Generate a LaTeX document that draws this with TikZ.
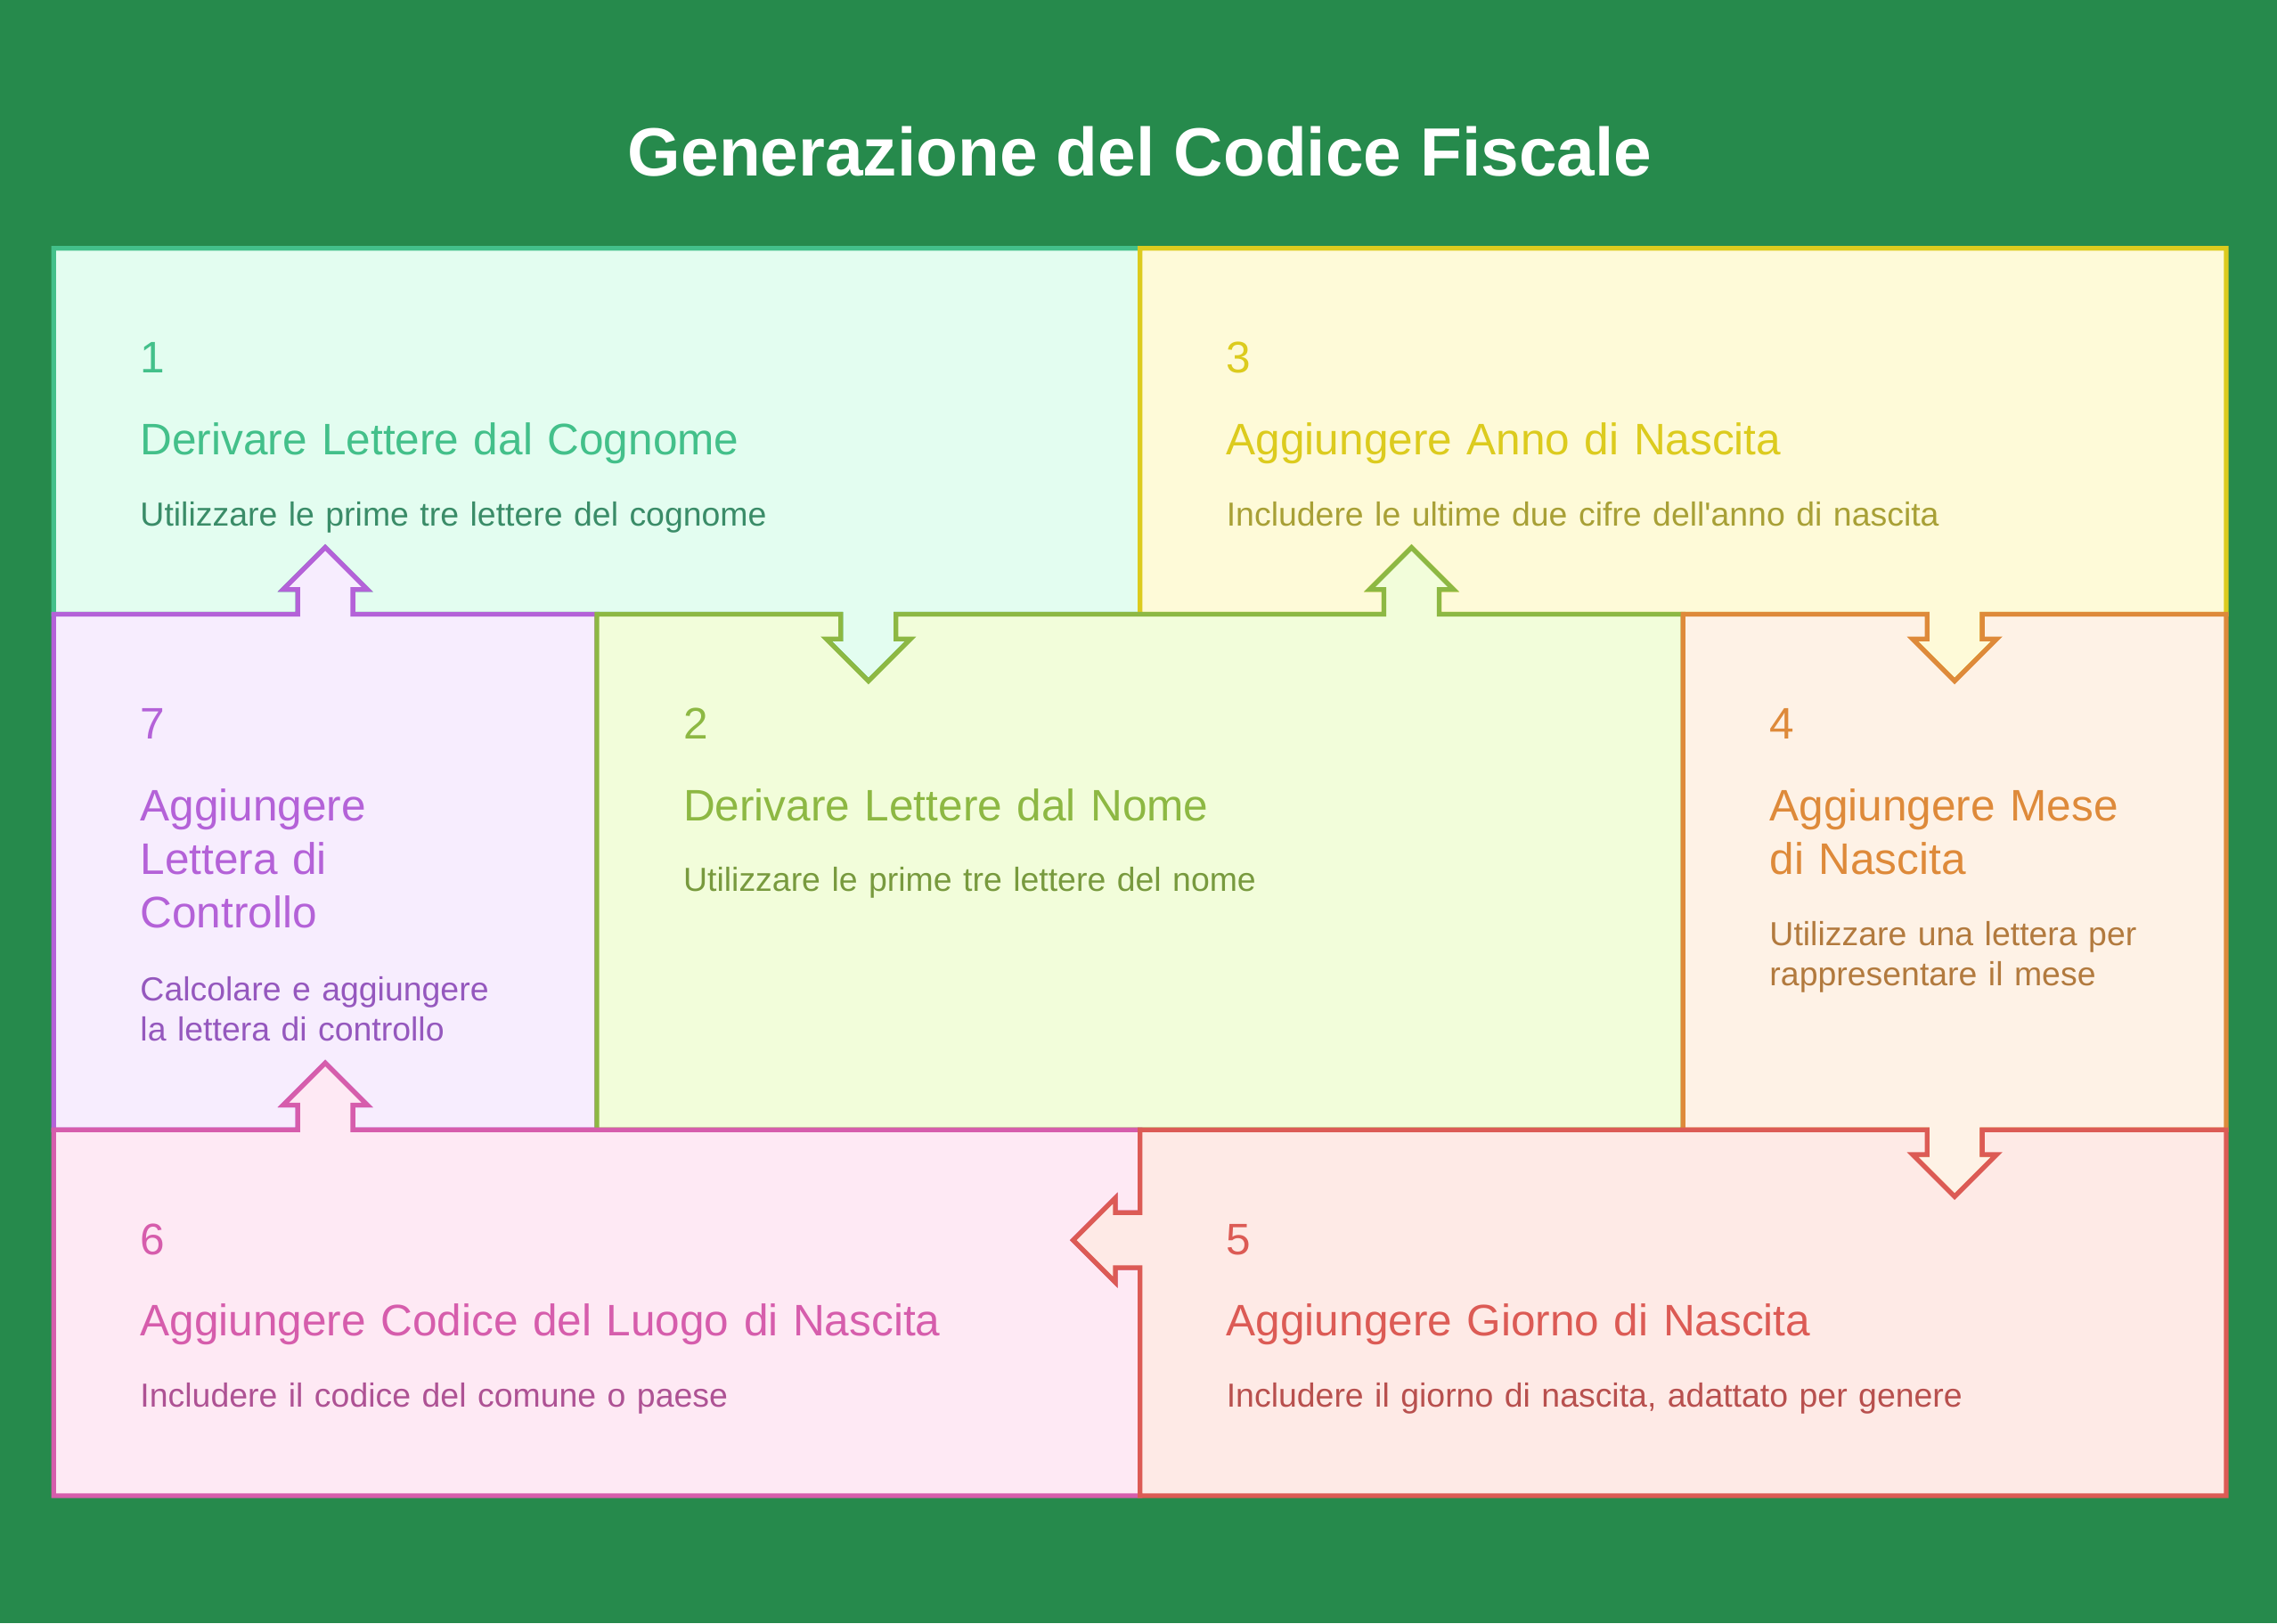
\documentclass[tikz,border=0pt]{standalone}
\usepackage{fontspec}
\setmainfont{Liberation Sans}

\definecolor{bgGreen}{HTML}{268A4C}
\definecolor{fillA}{HTML}{E3FDF0}\definecolor{lineA}{HTML}{43C08A}\definecolor{descA}{HTML}{3A8C68}
\definecolor{fillB}{HTML}{F2FDDA}\definecolor{lineB}{HTML}{8DB843}\definecolor{descB}{HTML}{789A3E}
\definecolor{fillC}{HTML}{FEFAD8}\definecolor{lineC}{HTML}{DCCB1E}\definecolor{descC}{HTML}{A8A036}
\definecolor{fillD}{HTML}{FEF2E6}\definecolor{lineD}{HTML}{DE8A3A}\definecolor{descD}{HTML}{B27A3E}
\definecolor{fillE}{HTML}{FEEAE6}\definecolor{lineE}{HTML}{DC5B55}\definecolor{descE}{HTML}{B8504E}
\definecolor{fillF}{HTML}{FEE9F4}\definecolor{lineF}{HTML}{D65DAC}\definecolor{descF}{HTML}{AE5294}
\definecolor{fillG}{HTML}{F7EDFE}\definecolor{lineG}{HTML}{B462D8}\definecolor{descG}{HTML}{9558BE}

\begin{document}
\begin{tikzpicture}[
  x=0.16301mm, y=-0.16301mm,
  line width=1.5pt,
  % arrow bump on a horizontal edge: centre, edge y, direction of travel, up(-1)/down(+1)
  hbump/.style n args={4}{insert path={
    -- ({#1-19*(#3)},#2) -- ({#1-19*(#3)},{#2+17*(#4)}) -- ({#1-29*(#3)},{#2+17*(#4)})
    -- (#1,{#2+46*(#4)})
    -- ({#1+29*(#3)},{#2+17*(#4)}) -- ({#1+19*(#3)},{#2+17*(#4)}) -- ({#1+19*(#3)},#2)}},
  % arrow bump on a vertical edge: edge x, centre, direction of travel, left(-1)/right(+1)
  vbump/.style n args={4}{insert path={
    -- (#1,{#2-19*(#3)}) -- ({#1+17*(#4)},{#2-19*(#3)}) -- ({#1+17*(#4)},{#2-29*(#3)})
    -- ({#1+46*(#4)},#2)
    -- ({#1+17*(#4)},{#2+29*(#3)}) -- ({#1+17*(#4)},{#2+19*(#3)}) -- (#1,{#2+19*(#3)})}},
  num/.style={anchor=base west, inner sep=0pt, font=\fontsize{14.1}{17.2}\selectfont},
  head/.style={anchor=base west, inner sep=0pt, text width=10cm, align=left, font=\fontsize{14.1}{17.2}\selectfont},
  desc/.style={anchor=base west, inner sep=0pt, text width=10cm, align=left, font=\fontsize{10.65}{13}\selectfont},
]
\useasboundingbox (0,0) rectangle (1568,1118);
\fill[bgGreen] (0,0) rectangle (1568,1118);

% Title
\node[anchor=base, inner sep=0pt, text=white, font=\fontsize{21.8}{26}\selectfont\bfseries] (title) at (785,121) {Generazione del Codice Fiscale};

% Tiles
\filldraw[fill=fillA, draw=lineA] (37,171) -- (785,171) -- (785,423) [hbump={598}{423}{-1}{1}] [hbump={224}{423}{-1}{-1}] -- (37,423) -- cycle;
\filldraw[fill=fillC, draw=lineC] (785,171) -- (1533,171) -- (1533,423) [hbump={1346}{423}{-1}{1}] [hbump={972}{423}{-1}{-1}] -- (785,423) -- cycle;
\filldraw[fill=fillG, draw=lineG] (37,423) [hbump={224}{423}{1}{-1}] -- (411,423) -- (411,778) [hbump={224}{778}{-1}{-1}] -- (37,778) -- cycle;
\filldraw[fill=fillB, draw=lineB] (411,423) [hbump={598}{423}{1}{1}] [hbump={972}{423}{1}{-1}] -- (1159,423) -- (1159,778) -- (411,778) -- cycle;
\filldraw[fill=fillD, draw=lineD] (1159,423) [hbump={1346}{423}{1}{1}] -- (1533,423) -- (1533,778) [hbump={1346}{778}{-1}{1}] -- (1159,778) -- cycle;
\filldraw[fill=fillF, draw=lineF] (37,778) [hbump={224}{778}{1}{-1}] -- (785,778) [vbump={785}{854}{1}{-1}] -- (785,1030) -- (37,1030) -- cycle;
\filldraw[fill=fillE, draw=lineE] (785,778) [hbump={1346}{778}{1}{1}] -- (1533,778) -- (1533,1030) -- (785,1030) [vbump={785}{854}{-1}{-1}] -- cycle;

% Step 1
\node[num, text=lineA] (n1) at (95,257) {1};
\node[head, text=lineA] (h1) at (95,313) {Derivare Lettere dal Cognome};
\node[desc, text=descA] (d1) at (95,362) {Utilizzare le prime tre lettere del cognome};

% Step 2
\node[num, text=lineB] (n2) at (469,509) {2};
\node[head, text=lineB] (h2) at (469,565) {Derivare Lettere dal Nome};
\node[desc, text=descB] (d2) at (469,614) {Utilizzare le prime tre lettere del nome};

% Step 3
\node[num, text=lineC] (n3) at (843,257) {3};
\node[head, text=lineC] (h3) at (843,313) {Aggiungere Anno di Nascita};
\node[desc, text=descC] (d3) at (843,362) {Includere le ultime due cifre dell\textquotesingle anno di nascita};

% Step 4
\node[num, text=lineD] (n4) at (1217,509) {4};
\node[head, text=lineD] (h4) at (1217,565) {Aggiungere Mese\\di Nascita};
\node[desc, text=descD] (d4) at (1217,651) {Utilizzare una lettera per\\rappresentare il mese};

% Step 5
\node[num, text=lineE] (n5) at (843,864) {5};
\node[head, text=lineE] (h5) at (843,920) {Aggiungere Giorno di Nascita};
\node[desc, text=descE] (d5) at (843,969) {Includere il giorno di nascita, adattato per genere};

% Step 6
\node[num, text=lineF] (n6) at (95,864) {6};
\node[head, text=lineF] (h6) at (95,920) {Aggiungere Codice del Luogo di Nascita};
\node[desc, text=descF] (d6) at (95,969) {Includere il codice del comune o paese};

% Step 7
\node[num, text=lineG] (n7) at (95,509) {7};
\node[head, text=lineG] (h7) at (95,565) {Aggiungere\\Lettera di\\Controllo};
\node[desc, text=descG] (d7) at (95,689) {Calcolare e aggiungere\\la lettera di controllo};

\end{tikzpicture}
\end{document}
